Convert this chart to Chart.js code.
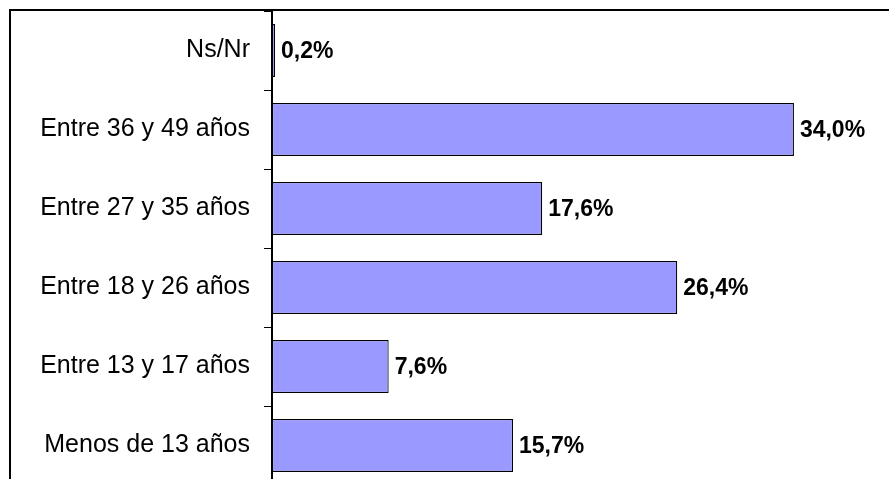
<!DOCTYPE html>
<html>
<head>
<meta charset="utf-8">
<script src="https://cdn.jsdelivr.net/npm/chart.js@4"></script>
<style>
  html, body { margin: 0; padding: 0; overflow: hidden; background: #fff; }
  #marco { position: absolute; left: 9px; top: 9px; width: 1000px; height: 1000px; border: 2px solid #000; }
  #caja { position: absolute; left: 0; top: 0; width: 889px; height: 487px; }
</style>
</head>
<body>
<div id="marco"></div>
<div id="caja"><canvas id="grafico"></canvas></div>
<script>
const categorias = ['Ns/Nr', 'Entre 36 y 49 años', 'Entre 27 y 35 años', 'Entre 18 y 26 años', 'Entre 13 y 17 años', 'Menos de 13 años'];
const porcentajes = [0.2, 34.0, 17.6, 26.4, 7.6, 15.7];
const ejeMin = 0;
const ejeMax = 40;

const qS = (el) => document.querySelector(el);

// etiquetas de valor al final de cada barra
const etiquetasValor = {
  id: 'etiquetasValor',
  afterDatasetsDraw(chart) {
    let ctx = chart.ctx;
    let meta = chart.getDatasetMeta(0);
    ctx.save();
    ctx.font = 'bold 23px "Liberation Sans", Arial, sans-serif';
    ctx.fillStyle = '#000';
    ctx.textAlign = 'left';
    ctx.textBaseline = 'middle';
    meta.data.forEach((barra, i) => {
      let texto = porcentajes[i].toFixed(1).replace('.', ',') + '%';
      ctx.fillText(texto, barra.x + 6, barra.y + 1);
    });
    ctx.restore();
  }
};

new Chart(qS('#grafico').getContext('2d'), {
  type: 'bar',
  data: {
    labels: categorias,
    datasets: [{
      data: porcentajes,
      backgroundColor: '#9999ff',
      borderColor: '#000',
      borderWidth: 1.2,
      borderSkipped: false,
      categoryPercentage: 1,
      barPercentage: 0.67
    }]
  },
  options: {
    indexAxis: 'y',
    responsive: true,
    maintainAspectRatio: false,
    animation: false,
    layout: { padding: { left: 0, right: 3, top: 11, bottom: 2 } },
    plugins: {
      legend: { display: false },
      tooltip: { enabled: false }
    },
    scales: {
      x: {
        display: false,
        min: ejeMin,
        max: ejeMax
      },
      y: {
        afterFit: (scale) => {
          scale.width = 272;
          scale.paddingTop = 0;
          scale.paddingBottom = 0;
        },
        border: { display: true, color: '#000', width: 2 },
        grid: { drawOnChartArea: false, drawTicks: true, tickLength: 8, color: '#000', offset: true },
        ticks: {
          color: '#000',
          padding: 14,
          font: { family: '"Liberation Sans", Arial, sans-serif', size: 25 }
        }
      }
    }
  },
  plugins: [etiquetasValor]
});
</script>
</body>
</html>
